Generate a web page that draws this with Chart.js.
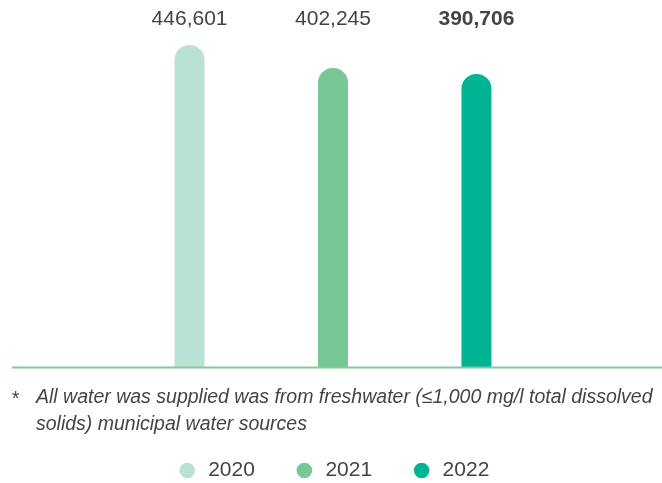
<!DOCTYPE html>
<html>
<head>
<meta charset="utf-8">
<script src="https://cdn.jsdelivr.net/npm/chart.js@4/dist/chart.umd.min.js"></script>
<style>
  html, body { margin: 0; padding: 0; background: #ffffff; }
  #wrap { width: 662px; height: 483px; position: relative; }
</style>
</head>
<body>
<div id="wrap"><canvas id="c" width="662" height="483"></canvas></div>
<script>
const categories = ['Water withdrawn'];
const seriesNames = ['2020', '2021', '2022'];
const seriesValues = [446601, 402245, 390706];
const seriesColors = ['#b9e1d4', '#78c796', '#00b493'];
const highlightIndex = 2;
const footnoteLines = [
  'All water was supplied was from freshwater (\u22641,000 mg/l total dissolved',
  'solids) municipal water sources'
];
const Y_MIN = -174000;
const Y_MAX = 456000;

const FONT = '"Liberation Sans", Arial, Helvetica, sans-serif';

const datasets = seriesNames.map((name, i) => ({
  label: name,
  data: [seriesValues[i]],
  backgroundColor: seriesColors[i],
  borderWidth: 0,
  borderRadius: 15,
  borderSkipped: 'start',
  base: Y_MIN
}));

const legendFitPlugin = {
  id: 'legendFit',
  beforeUpdate(chart) {
    const lg = chart.legend;
    if (lg && !lg._patched) {
      const orig = lg.fit;
      lg.fit = function () { orig.call(this); this.height = 62; };
      lg._patched = true;
    }
  }
};

const extrasPlugin = {
  id: 'extras',
  afterDatasetsDraw(chart) {
    const ctx = chart.ctx;
    const area = chart.chartArea;
    // baseline
    ctx.save();
    ctx.strokeStyle = '#80cc9f';
    ctx.lineWidth = 2;
    ctx.beginPath();
    ctx.moveTo(12, area.bottom + 0.5);
    ctx.lineTo(chart.width, area.bottom + 0.5);
    ctx.stroke();
    // value labels
    ctx.textAlign = 'center';
    ctx.textBaseline = 'middle';
    ctx.fillStyle = '#444444';
    chart.data.datasets.forEach((ds, i) => {
      const meta = chart.getDatasetMeta(i);
      const el = meta.data[0];
      ctx.font = (i === highlightIndex ? 'bold ' : '') + '21px ' + FONT;
      ctx.fillText(ds.data[0].toLocaleString('en-US'), el.x, 19);
    });
    // footnote
    ctx.textAlign = 'left';
    ctx.fillStyle = '#444444';
    ctx.font = 'italic 19.5px ' + FONT;
    ctx.fillText('*', 11, area.bottom + 33);
    footnoteLines.forEach((t, k) => {
      ctx.fillText(t, 36, area.bottom + 31 + k * 27);
    });
    ctx.restore();
  }
};

new Chart(document.getElementById('c'), {
  type: 'bar',
  data: { labels: categories, datasets },
  plugins: [legendFitPlugin, extrasPlugin],
  options: {
    responsive: false,
    animation: false,
    devicePixelRatio: 1,
    layout: { padding: { top: 40, left: 4, right: 0, bottom: 0 } },
    datasets: { bar: { categoryPercentage: 0.654, barPercentage: 0.209 } },
    scales: {
      x: {
        display: true,
        grid: { display: false },
        border: { display: false },
        ticks: { display: false },
        afterFit(scale) { scale.height = 54; }
      },
      y: {
        display: false,
        min: Y_MIN,
        max: Y_MAX
      }
    },
    plugins: {
      tooltip: { enabled: false },
      legend: {
        display: true,
        position: 'bottom',
        labels: {
          usePointStyle: true,
          pointStyle: 'circle',
          boxWidth: 21,
          boxHeight: 11,
          padding: 39,
          color: '#444444',
          font: { family: FONT, size: 21 }
        }
      }
    }
  }
});
</script>
</body>
</html>
